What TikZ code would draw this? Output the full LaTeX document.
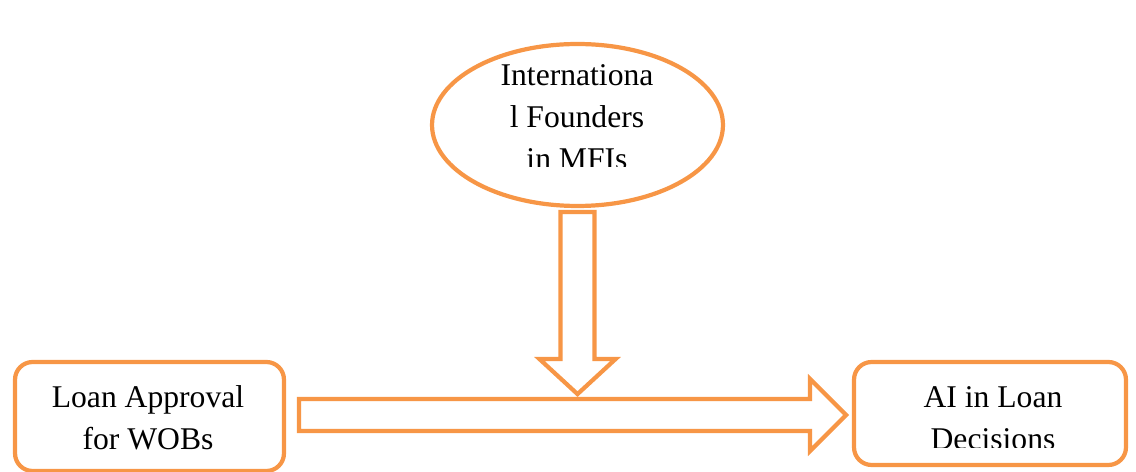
\documentclass[tikz,border=0pt]{standalone}
\usepackage{fontspec}
\setmainfont{Liberation Serif}
\usetikzlibrary{calc,shapes.geometric}
\definecolor{boxorange}{RGB}{247,150,70}
\tikzset{
  boxln/.style={draw=boxorange, line width=2.4pt, rounded corners=10pt, inner sep=0pt},
  ovalln/.style={ellipse, draw=boxorange, line width=2.4pt, inner sep=0pt},
  blockarrow/.style={draw=boxorange, fill=white, line width=2.4pt, line join=miter},
  boxtext/.style={font=\fontsize{18}{24}\selectfont, align=center, anchor=base, inner sep=0pt},
}

\begin{document}
\begin{tikzpicture}[x=0.02cm, y=-0.02cm]
    \useasboundingbox (0,0) rectangle (1136,472);
    % boxes
    \node[ovalln, minimum width=5.82cm, minimum height=3.24cm] (founders) at (577.5,125) {};
    \node[boxln, minimum width=5.38cm, minimum height=2.18cm] (approval) at (149.5,416.5) {};
    \node[boxln, minimum width=5.44cm, minimum height=2.06cm] (aidecisions) at (990,413.5) {};
    % block arrows
    \draw[blockarrow, shift={(founders.south)}] (-17,4) -- (-17,151) -- (-38,151) -- (0,186)
      -- (38,151) -- (17,151) -- (17,4) -- cycle;
    \draw[blockarrow, shift={(approval.east)}] (13,-17.5) -- (524,-17.5) -- (524,-37.5) -- (560,-1.5)
      -- (524,34.5) -- (524,14.5) -- (13,14.5) -- cycle;
    % texts (base anchor sits on the last line)
    \begin{scope}
      \clip (430,40) rectangle (725,167);
      \node[boxtext] (founderstext) at (577,169.5) {Internationa\\l Founders\\in MFIs};
    \end{scope}
    \node[boxtext] (approvaltext) at (148,450) {Loan Approval\\for WOBs};
    \begin{scope}
      \clip (852,360) rectangle (1128,448);
      \node[boxtext] (aitext) at (993,450) {AI in Loan\\Decisions};
    \end{scope}
\end{tikzpicture}
\end{document}
